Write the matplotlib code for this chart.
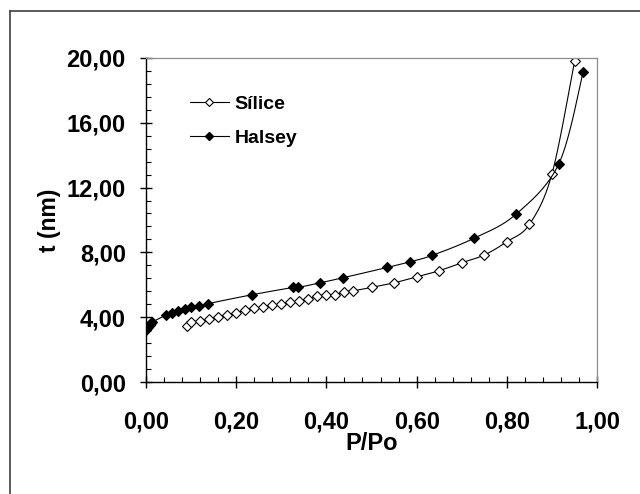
import numpy as np
import matplotlib.pyplot as plt
from matplotlib.lines import Line2D
from matplotlib.ticker import MultipleLocator, FuncFormatter

plt.rcParams['font.family'] = ['Liberation Sans', 'DejaVu Sans']
plt.rcParams['font.weight'] = 'bold'

# t-plot data: film thickness vs relative pressure
silice_p = [0.09, 0.10, 0.12, 0.14, 0.16, 0.18, 0.20, 0.22, 0.24, 0.26,
            0.28, 0.30, 0.32, 0.34, 0.36, 0.38, 0.40, 0.42, 0.44, 0.46,
            0.50, 0.55, 0.60, 0.65, 0.70, 0.75, 0.80, 0.85, 0.90, 0.95]
silice_t = [3.48, 3.71, 3.75, 3.86, 4.02, 4.16, 4.27, 4.43, 4.54, 4.64,
            4.74, 4.80, 4.91, 5.01, 5.11, 5.30, 5.38, 5.36, 5.57, 5.63,
            5.84, 6.12, 6.49, 6.87, 7.36, 7.84, 8.66, 9.73, 12.85, 19.79]

halsey_p = [0.001, 0.003, 0.005, 0.008, 0.011, 0.014, 0.044, 0.057, 0.070,
            0.087, 0.101, 0.118, 0.138, 0.234, 0.327, 0.338, 0.386, 0.436,
            0.535, 0.585, 0.634, 0.727, 0.820, 0.915, 0.969]
halsey_t = [3.22, 3.34, 3.42, 3.52, 3.62, 3.70, 4.12, 4.23, 4.36,
            4.50, 4.60, 4.71, 4.84, 5.38, 5.84, 5.84, 6.12, 6.43,
            7.07, 7.42, 7.81, 8.87, 10.35, 13.46, 19.13]

labels = ['Sílice', 'Halsey']


def smooth(x, y, sx=451.0, sy=324.0 / 20, n=20):
    # Bezier smoothing through every point (spreadsheet-style smoothed line)
    px = np.asarray(x) * sx
    py = np.asarray(y) * sy
    pts = np.column_stack([px, py])
    out = [pts[0]]
    for i in range(len(pts) - 1):
        p0 = pts[i - 1] if i > 0 else pts[i]
        p1 = pts[i]
        p2 = pts[i + 1]
        p3 = pts[i + 2] if i + 2 < len(pts) else pts[i + 1]
        c1 = p1 + (p2 - p0) / 6.0
        c2 = p2 - (p3 - p1) / 6.0
        t = np.linspace(0, 1, n)[1:, None]
        seg = ((1 - t) ** 3 * p1 + 3 * (1 - t) ** 2 * t * c1
               + 3 * (1 - t) * t ** 2 * c2 + t ** 3 * p2)
        out.extend(seg)
    out = np.array(out)
    return out[:, 0] / sx, out[:, 1] / sy


fig = plt.figure(figsize=(6.4, 4.94), dpi=100)
ax = fig.add_axes([0.228, 0.2267, 0.705, 0.656])

sx, sy = smooth(silice_p, silice_t)
ax.plot(sx, sy, color='black', lw=0.8)
ax.plot(silice_p, silice_t, ls='none', marker='D', ms=5.2,
        mfc='white', mec='black', mew=0.8)

hx, hy = smooth(halsey_p, halsey_t)
ax.plot(hx, hy, color='black', lw=0.8)
ax.plot(halsey_p, halsey_t, ls='none', marker='D', ms=5.2,
        mfc='black', mec='black', mew=0.8)

ax.set_xlim(0, 1)
ax.set_ylim(0, 20)
ax.xaxis.set_major_locator(MultipleLocator(0.2))
ax.xaxis.set_minor_locator(MultipleLocator(0.04))
ax.yaxis.set_major_locator(MultipleLocator(4))
ax.yaxis.set_minor_locator(MultipleLocator(0.8))
comma = FuncFormatter(lambda v, pos: f'{v:.2f}'.replace('.', ','))
ax.xaxis.set_major_formatter(comma)
ax.yaxis.set_major_formatter(comma)

ax.tick_params(which='major', direction='inout', length=9, width=1,
               labelsize=17, color='black')
ax.tick_params(axis='x', which='major', pad=16)
ax.tick_params(axis='y', which='major', pad=10)
ax.tick_params(which='minor', direction='in', length=3.6, width=0.8)
ax.tick_params(top=False, right=False, which='both')

for s in ('top', 'right'):
    ax.spines[s].set_color('#8c8c8c')
    ax.spines[s].set_linewidth(0.9)
for s in ('left', 'bottom'):
    ax.spines[s].set_linewidth(1.0)

ax.set_xlabel('P/Po', fontsize=17, fontweight='bold', labelpad=-1)
ax.set_ylabel('t (nm)', fontsize=16.5, fontweight='bold', labelpad=4)

handles = [
    Line2D([], [], color='black', lw=0.8, marker='D', ms=4.5,
           mfc='white', mec='black', mew=0.8),
    Line2D([], [], color='black', lw=0.8, marker='D', ms=4.5,
           mfc='black', mec='black'),
]
ax.legend(handles, labels, loc='upper left', bbox_to_anchor=(0.097, 0.885),
          frameon=False, fontsize=14, handlelength=2.0,
          handletextpad=0.3, labelspacing=0.83, borderpad=0,
          borderaxespad=0)

# outer chart frame (left and top edges visible)
fig.add_artist(Line2D([10 / 640, 10 / 640], [0, 1 - 11 / 494],
                      transform=fig.transFigure, color='#404040', lw=1.2))
fig.add_artist(Line2D([10 / 640, 1], [1 - 11 / 494, 1 - 11 / 494],
                      transform=fig.transFigure, color='#404040', lw=1.2))

fig.savefig('out.png', dpi=100)
